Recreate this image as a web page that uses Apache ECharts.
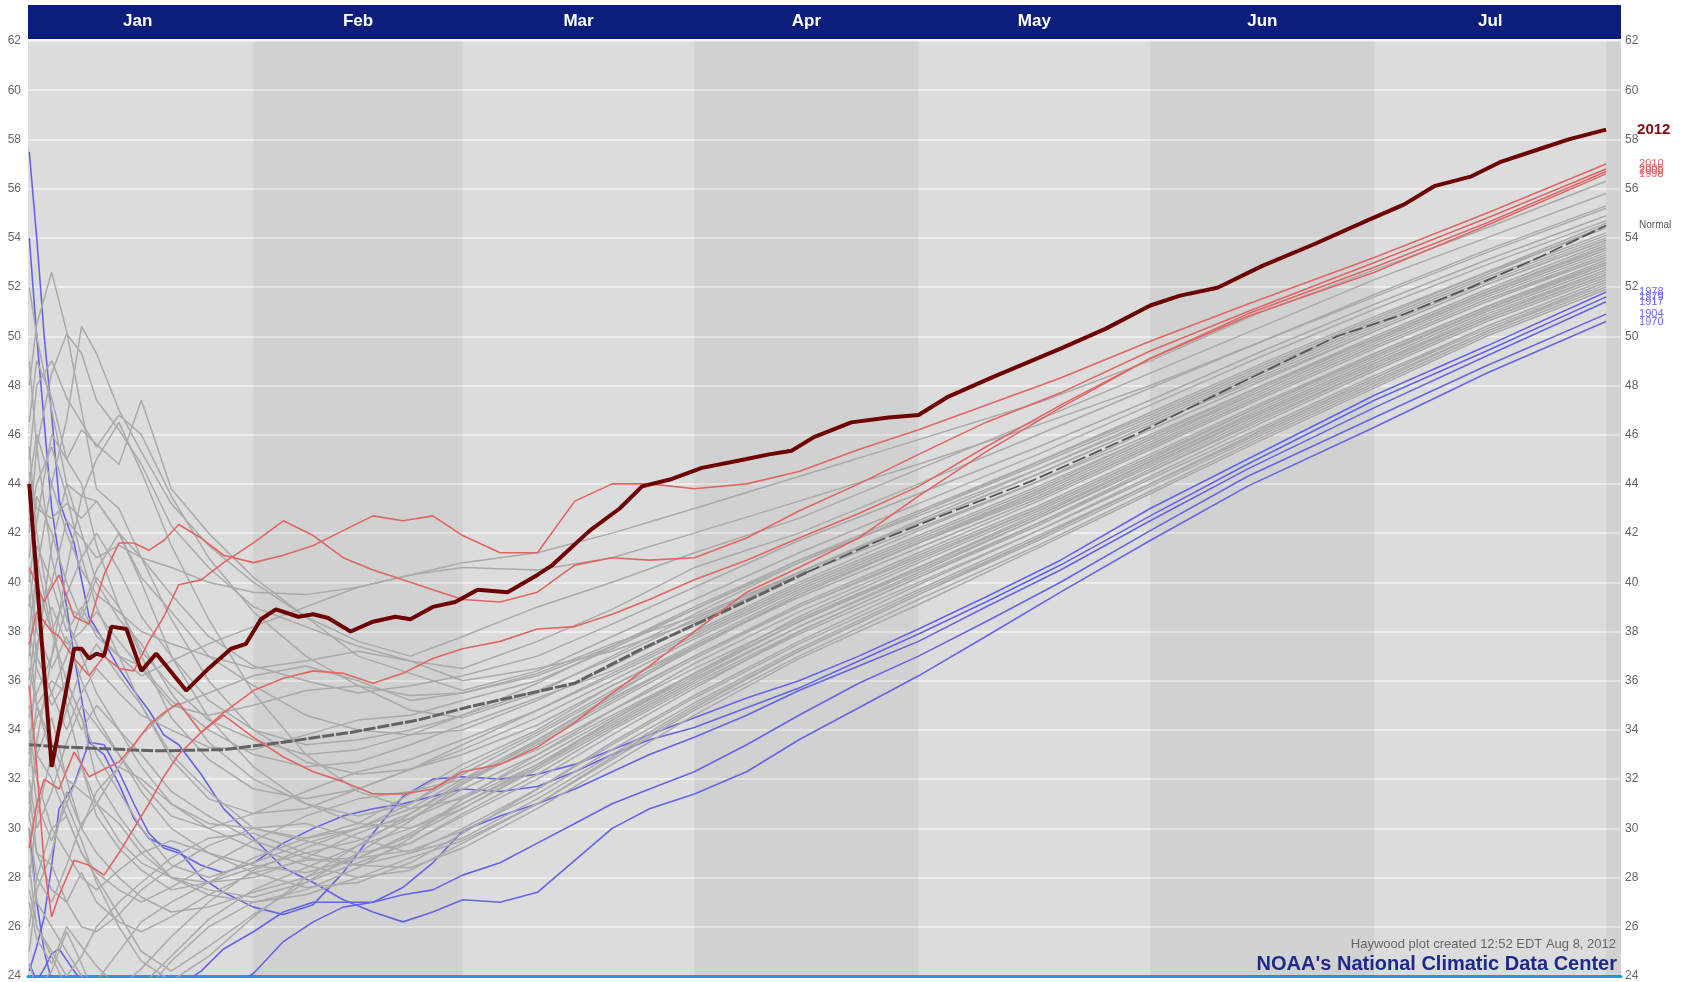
<!DOCTYPE html>
<html><head><meta charset="utf-8">
<script src="https://cdn.jsdelivr.net/npm/echarts@6/dist/echarts.min.js"></script>
<style>html,body{margin:0;padding:0;background:#fff}#c{width:1691px;height:982px}</style>
</head><body><div id="c"></div>
<script>
// ---------- categories / ticks ----------
const MONTHS = ['Jan','Feb','Mar','Apr','May','Jun','Jul'];
const MONTH_START = [0,31,59,90,120,151,181,212];   // day-of-year where each month begins (Aug last)
const Y_MIN = 24, Y_MAX = 62, Y_STEP = 2;

// ---------- 2012 ----------
const DAYS_2012 = [1,4,7,8,9,10,11,12,14,16,18,22,25,28,30,32,34,37,39,41,44,47,50,52,55,58,61,65,69,71,76,80,83,87,91,96,100,103,106,111,116,120,124,130,139,145,151,155,160,166,173,180,185,189,194,198,203,207,212];
const T_2012 = [44.0,32.5,37.3,37.3,36.9,37.1,37.0,38.2,38.1,36.4,37.1,35.6,36.5,37.3,37.5,38.5,38.9,38.6,38.7,38.55,38.0,38.4,38.6,38.5,39.0,39.2,39.7,39.6,40.3,40.7,42.1,43.0,43.9,44.2,44.65,44.95,45.2,45.35,45.9,46.5,46.7,46.8,47.55,48.35,49.5,50.3,51.25,51.65,51.97,52.86,53.75,54.7,55.36,56.1,56.5,57.1,57.6,58.0,58.4];

// ---------- Normal ----------
const DAYS_NORMAL = [1,6,18,27,35,44,53,60,74,83,96,105,114,123,135,149,162,176,185,194,203,212];
const T_NORMAL = [33.4,33.3,33.15,33.2,33.5,33.9,34.4,34.95,35.9,37.3,39.1,40.4,41.6,42.7,44.1,46.0,47.95,50.0,50.9,52.0,53.2,54.5];

// ---------- warmest (red) and coldest (blue) years ----------
const DAYS_RB = [1,2,3,4,5,7,9,11,13,15,17,19,21,24,27,31,35,39,43,47,51,55,59,64,69,74,79,84,90,97,104,112,120,129,139,151,164,181,196,212];
const T_2010 = [40.6,39.9,39.2,39.8,40.3,38.6,38.3,40.3,41.6,41.6,41.3,41.7,42.35,41.8,41.1,40.8,41.1,41.5,42.1,42.7,42.5,42.7,41.9,41.2,41.2,43.3,44.0,44.0,43.8,44.0,44.5,45.4,46.2,47.2,48.3,49.8,51.3,53.2,55.0,57.0];
const T_2006 = [37.5,38.8,38.4,38.0,37.8,36.9,36.2,37.0,36.5,36.4,37.6,38.6,39.9,40.1,40.8,41.6,42.5,41.9,41.0,40.5,40.1,39.7,39.3,39.2,39.6,40.7,41.0,40.9,41.0,41.8,42.9,44.0,45.2,46.5,47.7,49.4,51.0,53.0,54.8,56.8];
const T_2000 = [35.8,32.5,28.5,26.4,27.3,28.7,28.5,28.1,29.0,30.0,31.0,32.1,33.0,33.9,34.7,35.6,36.1,36.4,36.3,35.9,36.3,36.9,37.3,37.6,38.1,38.2,38.7,39.3,40.1,40.9,41.8,42.8,43.9,45.5,47.2,49.1,50.9,52.8,54.6,56.7];
const T_1998 = [29.2,31.0,32.0,31.8,31.6,33.1,32.1,32.4,32.7,33.4,34.2,34.7,35.1,33.9,34.6,33.7,32.9,32.3,31.9,31.4,31.4,31.6,32.3,32.6,33.3,34.3,35.5,36.6,38.0,39.6,40.6,41.8,43.5,45.3,47.1,49.1,50.8,52.6,54.5,56.6];
const T_1978 = [24.2,25.2,26.4,28.5,30.8,31.8,33.5,33.0,31.8,30.4,29.6,29.3,29.1,28.0,27.4,26.8,26.5,26.9,28.2,29.8,31.3,32.0,32.1,32.0,32.2,32.6,33.2,33.8,34.5,35.3,36.0,37.0,38.1,39.4,40.9,43.0,45.0,47.6,49.6,51.8];
const T_1979 = [54.0,50.0,46.5,43.0,41.0,37.0,33.5,33.4,32.3,31.0,29.8,29.2,29.0,28.5,28.2,28.6,29.4,30.0,30.5,30.8,31.0,31.3,31.6,31.5,31.7,32.3,33.0,33.6,34.1,34.9,35.7,36.8,37.9,39.2,40.7,42.7,44.8,47.4,49.4,51.6];
const T_1917 = [30.0,27.0,25.0,23.8,23.0,22.5,22.2,22.0,22.1,22.4,22.8,23.2,23.6,24.2,25.1,25.8,26.6,27.0,27.0,27.0,27.6,28.6,29.9,30.5,31.0,31.6,32.3,33.0,33.7,34.6,35.6,36.6,37.6,39.0,40.5,42.5,44.6,47.1,49.2,51.4];
const T_1904 = [24.5,23.8,24.3,24.9,25.1,24.2,23.4,22.6,22.0,21.8,21.8,22.0,22.4,22.8,23.4,24.1,25.4,26.2,26.8,27.0,27.3,27.5,28.1,28.6,29.4,30.2,31.0,31.6,32.3,33.4,34.6,35.9,37.0,38.4,40.0,42.1,44.3,46.7,48.8,50.9];
const T_1970 = [57.5,54.0,50.0,46.8,43.3,41.6,38.6,37.6,36.5,35.6,34.8,33.8,33.4,32.2,30.8,29.6,28.4,27.8,27.1,26.6,26.2,26.6,27.1,27.0,27.4,28.7,30.0,30.8,31.4,32.3,33.6,34.9,36.2,37.8,39.6,41.7,43.9,46.3,48.5,50.6];
const RED_YEARS = ['2010','2006','2000','1998'];
const BLUE_YEARS = ['1978','1979','1917','1904','1970'];

// ---------- other years (gray) ----------
const DAYS_GRAY = [1,2,4,6,8,10,13,16,20,25,31,38,45,52,59,69,79,90,104,120,136,151,166,181,196,212];
const G01 = [36.0,38.5,40.0,42.5,41.8,41.0,41.5,41.0,40.6,40.0,39.6,39.5,39.8,40.3,40.8,41.2,42.0,43.0,44.3,45.8,47.3,49.0,51.0,52.7,54.4,56.3];
const G02 = [38.0,40.5,44.0,46.6,50.4,49.3,47.0,45.3,43.2,41.5,40.0,38.6,37.6,37.0,37.8,39.0,40.0,41.2,42.6,44.6,46.6,48.5,50.4,52.3,54.0,55.8];
const G03 = [42.0,45.5,48.5,50.1,49.3,47.4,46.2,44.8,42.3,40.6,39.0,38.2,37.4,36.8,36.5,37.6,38.9,40.6,42.0,44.0,46.0,47.9,49.8,51.7,53.5,55.3];
const G04 = [48.0,50.5,52.6,50.2,47.0,43.8,43.0,41.0,39.5,37.8,36.6,36.0,35.5,35.8,36.2,37.0,38.3,39.8,41.7,43.6,45.5,47.4,49.4,51.3,53.1,54.9];
const G05 = [40.0,42.5,46.0,45.0,46.2,45.6,44.8,47.4,43.8,42.0,40.2,38.6,37.0,36.3,35.6,36.4,37.8,39.3,41.2,43.2,45.2,47.2,49.2,51.1,52.9,54.7];
const G06 = [45.0,48.0,49.0,47.5,46.5,45.5,46.8,46.0,43.5,41.0,38.8,37.0,35.8,34.8,34.5,35.5,37.0,38.7,40.8,42.8,44.9,46.9,48.9,50.8,52.6,54.4];
const G07 = [44.5,43.0,42.6,43.2,42.6,43.3,42.0,40.2,38.8,37.0,35.8,34.6,34.0,33.8,34.0,35.2,36.6,38.3,40.4,42.5,44.6,46.6,48.6,50.5,52.4,54.2];
const G08 = [30.0,28.0,27.0,28.5,30.2,31.0,32.5,33.8,34.9,35.5,36.2,36.6,36.0,35.2,35.5,36.3,37.5,38.6,40.4,42.4,44.4,46.4,48.4,50.3,52.2,54.0];
const G09 = [34.5,35.5,37.0,39.0,38.6,38.0,37.0,36.6,35.2,34.0,33.0,32.5,32.7,33.4,34.2,35.3,36.4,38.0,40.0,42.1,44.1,46.2,48.2,50.2,52.1,53.9];
const G10 = [32.0,30.0,31.5,33.5,35.0,34.2,33.0,31.8,30.5,30.0,30.6,31.5,32.3,32.8,33.6,34.8,36.2,37.8,39.8,41.8,43.8,45.9,48.0,49.9,51.8,53.7];
const G11 = [52.0,50.0,47.0,44.0,42.0,40.0,38.5,37.5,35.5,33.5,32.0,31.0,30.5,31.0,32.2,33.8,35.5,37.3,39.5,41.6,43.7,45.8,47.9,49.9,51.8,53.6];
const G12 = [28.0,30.5,33.0,34.8,36.5,37.5,36.2,35.0,33.0,31.5,30.0,29.6,30.2,31.4,32.6,34.0,35.8,37.5,39.6,41.6,43.5,45.6,47.7,49.7,51.6,53.4];
const G13 = [27.0,25.5,24.5,26.0,25.2,24.4,23.5,24.3,25.6,27.0,28.3,29.2,30.0,31.0,32.4,33.9,35.6,37.4,39.4,41.4,43.4,45.5,47.6,49.6,51.5,53.3];
const G14 = [38.0,36.5,35.0,36.0,34.5,33.0,31.5,30.0,28.5,28.0,28.6,29.4,30.0,30.8,32.0,33.6,35.3,37.0,39.1,41.2,43.3,45.4,47.5,49.5,51.4,53.2];
const G15 = [35.0,33.0,34.5,32.0,31.5,31.0,30.2,29.0,28.0,27.8,28.0,28.8,29.8,30.6,31.8,33.4,35.1,36.9,39.0,41.1,43.1,45.2,47.3,49.3,51.2,53.0];
const G16 = [33.0,37.0,41.5,44.0,43.5,43.3,42.0,40.0,37.0,34.5,32.5,31.0,30.2,30.0,30.8,32.5,34.4,36.3,38.6,40.8,42.9,45.0,47.2,49.2,51.1,52.9];
const G17 = [31.0,33.0,32.0,30.5,29.0,28.2,27.5,27.0,27.6,28.5,29.5,30.5,31.2,31.5,32.0,33.2,34.8,36.5,38.5,40.6,42.7,44.9,47.0,49.0,51.0,52.8];
const G18 = [29.5,27.0,26.0,25.0,24.0,23.2,23.0,23.6,24.8,26.3,27.5,28.4,29.3,30.0,31.0,32.5,34.2,36.0,38.2,40.4,42.6,44.8,46.9,48.9,50.9,52.7];
const G19 = [40.5,38.0,36.5,37.8,36.0,34.5,33.0,31.5,30.0,29.0,28.5,28.2,28.8,29.8,31.0,32.6,34.3,36.1,38.2,40.3,42.4,44.6,46.8,48.8,50.8,52.6];
const G20 = [36.5,35.0,36.0,35.5,34.0,35.0,34.0,32.5,31.0,30.2,30.0,29.5,29.0,29.4,30.5,32.0,33.8,35.7,38.0,40.2,42.3,44.5,46.6,48.7,50.7,52.5];
const G21 = [26.0,28.0,30.0,29.0,28.0,27.5,28.3,29.0,29.5,29.0,28.2,27.6,27.8,28.6,29.8,31.6,33.5,35.4,37.6,39.9,42.1,44.3,46.5,48.6,50.6,52.4];
const G22 = [33.5,31.0,29.5,31.0,32.5,31.0,29.5,28.6,28.0,27.5,27.2,27.8,28.6,29.4,30.6,32.2,34.0,35.8,37.9,40.0,42.1,44.2,46.3,48.4,50.4,52.3];
const G23 = [49.0,45.5,41.0,38.5,37.0,35.5,34.0,33.0,31.5,30.5,29.5,28.8,28.5,29.0,30.0,31.6,33.4,35.3,37.5,39.7,41.9,44.0,46.2,48.3,50.3,52.2];
const G24 = [31.5,29.0,27.5,27.0,26.0,25.8,26.5,27.5,28.4,29.3,30.0,30.2,29.6,29.0,29.6,31.2,33.0,35.0,37.2,39.5,41.7,43.9,46.0,48.1,50.2,52.1];
const G25 = [37.0,40.0,38.0,36.0,34.5,32.0,30.5,29.3,28.0,27.3,27.0,27.3,28.0,28.8,29.5,31.0,32.8,34.8,37.0,39.3,41.5,43.7,45.9,48.0,50.1,52.0];
const G26 = [28.5,26.0,25.0,24.0,24.8,26.0,27.0,27.8,28.8,29.6,29.8,29.0,28.5,28.4,29.2,30.8,32.6,34.6,36.9,39.1,41.4,43.6,45.8,47.9,50.0,51.9];
const G27 = [44.0,46.0,44.0,42.0,40.5,39.5,38.8,38.0,37.5,37.0,36.5,36.8,37.2,36.8,36.0,36.5,37.2,38.4,40.3,42.2,44.1,46.0,48.0,50.0,51.9,53.8];
const G28 = [24.5,23.5,24.2,25.8,24.5,23.0,22.5,23.2,24.6,26.0,27.0,27.5,28.4,29.6,31.2,33.0,34.8,36.7,38.8,40.9,43.0,45.1,47.2,49.3,51.2,53.1];
const G29 = [45.5,42.0,38.5,35.0,32.5,30.5,29.2,28.3,27.5,27.8,28.4,29.0,29.5,30.4,31.6,33.0,34.6,36.3,38.4,40.5,42.6,44.7,46.9,48.9,50.8,52.7];
const G30 = [33.0,34.5,35.5,34.0,35.5,36.5,35.5,34.6,34.0,33.3,33.2,33.8,34.4,34.6,35.2,36.0,37.3,38.9,40.8,42.8,44.8,46.7,48.7,50.6,52.5,54.5];
const G31 = [34.0,32.0,30.0,30.5,29.0,28.0,26.5,25.0,24.2,25.2,26.5,27.8,29.0,30.3,31.8,33.6,35.4,37.4,39.5,41.6,43.6,45.7,47.8,49.8,51.7,53.5];
const G32 = [42.5,44.0,45.5,43.5,41.0,39.0,37.0,35.0,32.8,31.2,30.6,30.8,31.6,32.4,33.0,34.2,35.8,37.4,39.4,41.4,43.4,45.5,47.6,49.6,51.5,53.2];
const G33 = [30.5,33.5,37.0,40.5,43.5,45.0,46.5,44.5,41.5,38.5,35.5,33.0,31.5,30.8,31.2,32.6,34.4,36.2,38.4,40.6,42.8,44.9,47.1,49.1,51.1,52.9];
const G34 = [39.0,41.5,40.0,38.0,39.0,37.8,37.0,36.2,36.8,37.5,38.2,39.0,39.8,40.3,40.6,40.5,41.0,42.0,43.3,44.8,46.4,48.0,49.8,51.6,53.4,55.2];
const G35 = [41.0,43.5,42.0,40.0,38.5,40.2,39.0,37.2,35.8,34.4,33.6,33.0,33.2,33.8,34.6,35.9,37.4,39.0,40.9,42.7,44.6,46.5,48.5,50.4,52.3,54.1];
const G36 = [37.5,35.0,33.0,31.0,29.5,27.8,26.0,24.6,23.8,24.8,26.4,28.0,29.3,30.6,31.9,33.5,35.2,37.0,39.0,41.0,43.0,45.1,47.2,49.2,51.1,53.0];
const G37 = [46.5,49.0,47.5,45.0,44.0,41.5,39.0,37.0,34.5,32.8,31.6,31.2,31.6,32.4,33.4,34.8,36.3,37.9,39.9,41.9,43.9,45.9,48.0,49.9,51.8,53.6];
const G38 = [32.5,35.0,33.5,32.0,30.0,29.0,28.0,27.2,26.6,26.8,27.4,28.0,28.8,29.7,30.8,32.4,34.1,35.9,38.0,40.2,42.4,44.5,46.7,48.7,50.7,52.5];
const G39 = [35.5,37.5,39.0,37.5,38.0,38.8,37.6,36.5,35.0,34.6,35.0,35.6,35.8,35.4,35.5,36.2,37.4,38.9,40.9,42.9,44.9,46.8,48.8,50.7,52.6,54.6];
const G40 = [25.0,27.5,29.0,31.5,30.0,31.5,32.5,32.0,31.0,30.0,29.2,28.5,28.0,28.3,29.4,31.0,32.9,34.9,37.2,39.5,41.8,44.0,46.2,48.3,50.4,52.3];
const G41 = [43.0,41.0,38.0,39.5,41.0,42.0,40.5,38.6,37.0,35.2,34.0,33.4,33.6,34.0,34.6,35.6,36.9,38.5,40.4,42.4,44.4,46.4,48.3,50.2,52.1,53.9];
const G42 = [27.5,26.0,24.8,23.5,23.0,23.8,25.0,26.2,27.0,27.8,28.8,29.6,30.0,30.4,31.3,32.8,34.5,36.3,38.4,40.6,42.7,44.9,47.0,49.0,51.0,52.8];
const G43 = [39.5,37.0,35.5,37.0,38.8,40.5,42.0,41.0,38.5,36.0,34.0,32.7,32.2,32.4,33.2,34.5,36.0,37.7,39.7,41.7,43.7,45.8,47.8,49.8,51.7,53.5];
const G44 = [30.5,29.0,28.5,27.0,28.2,27.0,26.2,25.8,26.4,27.3,28.2,28.7,28.8,29.1,29.9,31.4,33.2,35.1,37.3,39.6,41.8,44.0,46.1,48.2,50.2,52.2];
const GRAY = [G01,G02,G03,G04,G05,G06,G07,G08,G09,G10,G11,G12,G13,G14,G15,G16,G17,G18,G19,G20,G21,G22,G23,G24,G25,G26,G27,G28,G29,G30,G31,G32,G33,G34,G35,G36,G37,G38,G39,G40,G41,G42,G43,G44];

// ---------- build chart ----------
const FONT = "'Liberation Sans', Arial, Helvetica, sans-serif";
const X_MIN = 0.83, X_MAX = 214.0;
const NORMAL_THIN_FROM = 105;   // the Normal curve is drawn thinner after this day
const pairs = (days, vals) => days.map((d, i) => [d, vals[i]]);
const BOUNDS = MONTH_START.concat([X_MAX]);
const MONTH_MID = MONTHS.map((m, i) => (MONTH_START[i] + MONTH_START[i + 1]) / 2);
const normalPts = pairs(DAYS_NORMAL, T_NORMAL);

const series = [];
series.push({
  type: 'line', data: [], silent: true, z: 1,
  markArea: {
    silent: true,
    data: BOUNDS.slice(0, -1).map((s, i) => [
      { xAxis: Math.max(s, X_MIN), itemStyle: { color: i % 2 ? 'rgba(0,0,0,0.047)' : 'rgba(0,0,0,0)' } },
      { xAxis: BOUNDS[i + 1] }
    ])
  }
});
const blueVals = [T_1978, T_1979, T_1917, T_1904, T_1970];
blueVals.forEach((v, i) => series.push({
  type: 'line', name: BLUE_YEARS[i], data: pairs(DAYS_RB, v), symbol: 'none', z: 2, silent: true, clip: true,
  lineStyle: { color: '#6464e4', width: 1.6 },
  endLabel: { show: true, formatter: p => p.seriesName, distance: 33, color: '#6a6ae8', fontSize: 11, fontFamily: FONT }
}));
GRAY.forEach((v, i) => series.push({
  type: 'line', name: 'g' + i, data: pairs(DAYS_GRAY, v), symbol: 'none', z: 3, silent: true, clip: true,
  lineStyle: { color: '#aaaaaa', width: 1.5 }
}));
series.push({
  type: 'line', name: 'NormalA', data: normalPts.filter(p => p[0] <= NORMAL_THIN_FROM), symbol: 'none', z: 4, silent: true, clip: true,
  lineStyle: { color: '#626262', width: 3, type: [12, 2] }
});
series.push({
  type: 'line', name: 'Normal', data: normalPts.filter(p => p[0] >= NORMAL_THIN_FROM), symbol: 'none', z: 4, silent: true, clip: true,
  lineStyle: { color: '#555555', width: 1.8, type: [14, 4] },
  endLabel: { show: true, formatter: 'Normal', distance: 33, color: '#555', fontSize: 10, fontFamily: FONT }
});
const redVals = [T_2010, T_2006, T_2000, T_1998];
redVals.forEach((v, i) => series.push({
  type: 'line', name: RED_YEARS[i], data: pairs(DAYS_RB, v), symbol: 'none', z: 5, silent: true, clip: true,
  lineStyle: { color: '#e06666', width: 1.6 },
  endLabel: { show: true, formatter: p => p.seriesName, distance: 33, color: '#e06868', fontSize: 11, fontFamily: FONT }
}));
series.push({
  type: 'line', name: '2012', data: pairs(DAYS_2012, T_2012), symbol: 'none', z: 6, silent: true, clip: true,
  lineStyle: { color: '#6e0000', width: 4 },
  endLabel: { show: true, formatter: '2012', distance: 31, color: '#7a1010', fontSize: 15, fontWeight: 'bold', fontFamily: FONT }
});

const yAxisBase = { type: 'value', min: Y_MIN, max: Y_MAX, interval: Y_STEP, axisLine: { show: false }, axisTick: { show: false } };
const option = {
  animation: false,
  backgroundColor: '#ffffff',
  grid: { left: 28, right: 70, top: 41, bottom: 5, show: true, backgroundColor: '#dcdcdc', borderWidth: 0 },
  xAxis: [
    { type: 'value', position: 'top', min: X_MIN, max: X_MAX, z: 10,
      axisLine: { show: false }, axisTick: { show: false }, splitLine: { show: false },
      axisLabel: { customValues: MONTH_MID, margin: 11, color: '#ffffff', fontSize: 17, fontWeight: 'bold', fontFamily: FONT,
        formatter: v => { let k = 0, best = 1e9; MONTH_MID.forEach((m, i) => { if (Math.abs(m - v) < best) { best = Math.abs(m - v); k = i; } }); return MONTHS[k]; } } },
    { type: 'value', position: 'bottom', min: X_MIN, max: X_MAX,
      axisLine: { show: true, lineStyle: { color: '#1a9fd9', width: 3 } }, axisTick: { show: false },
      axisLabel: { show: false }, splitLine: { show: false } }
  ],
  yAxis: [
    Object.assign({}, yAxisBase, { position: 'left',
      axisLabel: { color: '#666', fontSize: 12, fontFamily: FONT, margin: 7 },
      splitLine: { show: true, lineStyle: { color: '#f3f3f3', width: 1.5 } } }),
    Object.assign({}, yAxisBase, { position: 'right',
      axisLabel: { color: '#666', fontSize: 12, fontFamily: FONT, margin: 4 },
      splitLine: { show: false } })
  ],
  graphic: [
    { type: 'rect', z: -1, shape: { x: 28, y: 5, width: 1593, height: 34 }, style: { fill: '#0c1e7c' } },
    { type: 'text', z: 20, x: 1616, y: 944, style: { text: 'Haywood plot created 12:52 EDT Aug 8, 2012', align: 'right', verticalAlign: 'middle', fill: '#666', font: "13px 'Liberation Sans', Arial, sans-serif" } },
    { type: 'text', z: 20, x: 1617, y: 964, style: { text: "NOAA's National Climatic Data Center", align: 'right', verticalAlign: 'middle', fill: '#1c2a8a', font: "bold 20px 'Liberation Sans', Arial, sans-serif" } }
  ],
  series: series
};
const chart = echarts.init(document.getElementById('c'));
chart.setOption(option);
</script>
</body></html>
